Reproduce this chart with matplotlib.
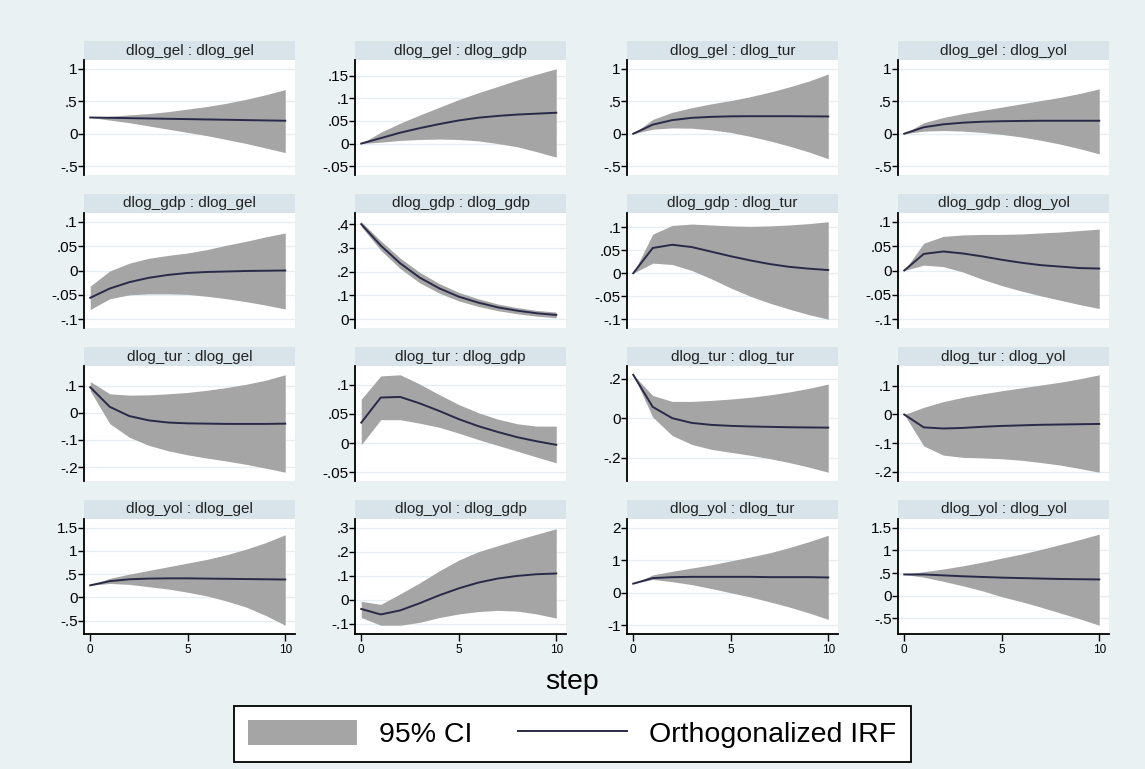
import matplotlib
matplotlib.use('Agg')
import matplotlib.pyplot as plt
from matplotlib.patches import Rectangle, Patch
from matplotlib.lines import Line2D
from matplotlib.ticker import FuncFormatter
import numpy as np

plt.rcParams['font.family'] = ['Liberation Sans', 'DejaVu Sans']

steps = list(range(11))
vars_ = ['gel', 'gdp', 'tur', 'yol']

# impulse -> response, rows = impulse, cols = response
irf = {
    ('gel', 'gel'): [0.25, 0.245, 0.24, 0.235, 0.23, 0.225, 0.22, 0.215, 0.21, 0.205, 0.20],
    ('gel', 'gdp'): [0, 0.012, 0.024, 0.034, 0.043, 0.051, 0.057, 0.061, 0.064, 0.066, 0.068],
    ('gel', 'tur'): [0, 0.14, 0.21, 0.245, 0.26, 0.268, 0.27, 0.27, 0.27, 0.268, 0.266],
    ('gel', 'yol'): [0, 0.10, 0.145, 0.17, 0.185, 0.193, 0.197, 0.20, 0.20, 0.20, 0.20],
    ('gdp', 'gel'): [-0.056, -0.037, -0.024, -0.015, -0.009, -0.005, -0.003, -0.002, -0.001, -0.0005, 0],
    ('gdp', 'gdp'): [0.40, 0.31, 0.235, 0.175, 0.13, 0.095, 0.07, 0.05, 0.036, 0.025, 0.018],
    ('gdp', 'tur'): [0, 0.055, 0.062, 0.057, 0.047, 0.037, 0.028, 0.02, 0.014, 0.01, 0.007],
    ('gdp', 'yol'): [0, 0.034, 0.039, 0.035, 0.029, 0.022, 0.016, 0.011, 0.008, 0.005, 0.004],
    ('tur', 'gel'): [0.094, 0.022, -0.012, -0.028, -0.036, -0.039, -0.04, -0.041, -0.041, -0.041, -0.04],
    ('tur', 'gdp'): [0.035, 0.078, 0.079, 0.068, 0.055, 0.041, 0.029, 0.019, 0.01, 0.003, -0.003],
    ('tur', 'tur'): [0.22, 0.057, 0.0, -0.024, -0.034, -0.039, -0.042, -0.044, -0.046, -0.047, -0.048],
    ('tur', 'yol'): [0, -0.045, -0.049, -0.047, -0.043, -0.04, -0.038, -0.036, -0.035, -0.034, -0.033],
    ('yol', 'gel'): [0.26, 0.35, 0.39, 0.405, 0.41, 0.41, 0.405, 0.40, 0.395, 0.39, 0.385],
    ('yol', 'gdp'): [-0.039, -0.062, -0.045, -0.015, 0.018, 0.047, 0.071, 0.088, 0.099, 0.106, 0.109],
    ('yol', 'tur'): [0.28, 0.45, 0.48, 0.49, 0.49, 0.49, 0.49, 0.48, 0.48, 0.48, 0.47],
    ('yol', 'yol'): [0.47, 0.47, 0.45, 0.43, 0.415, 0.40, 0.39, 0.38, 0.37, 0.365, 0.36],
}

ci_upper = {
    ('gel', 'gel'): [0.25, 0.27, 0.29, 0.31, 0.34, 0.38, 0.42, 0.47, 0.53, 0.60, 0.68],
    ('gel', 'gdp'): [0, 0.025, 0.045, 0.063, 0.08, 0.097, 0.112, 0.126, 0.140, 0.153, 0.165],
    ('gel', 'tur'): [0, 0.22, 0.33, 0.40, 0.46, 0.51, 0.57, 0.64, 0.72, 0.81, 0.92],
    ('gel', 'yol'): [0, 0.17, 0.25, 0.31, 0.36, 0.41, 0.46, 0.51, 0.56, 0.62, 0.69],
    ('gdp', 'gel'): [-0.032, -0.001, 0.015, 0.025, 0.031, 0.036, 0.043, 0.052, 0.060, 0.069, 0.077],
    ('gdp', 'gdp'): [0.41, 0.33, 0.257, 0.197, 0.15, 0.113, 0.086, 0.064, 0.049, 0.037, 0.03],
    ('gdp', 'tur'): [0, 0.085, 0.104, 0.107, 0.105, 0.103, 0.102, 0.103, 0.105, 0.108, 0.112],
    ('gdp', 'yol'): [0, 0.056, 0.07, 0.073, 0.074, 0.074, 0.075, 0.077, 0.079, 0.082, 0.085],
    ('tur', 'gel'): [0.115, 0.07, 0.065, 0.066, 0.07, 0.075, 0.083, 0.093, 0.105, 0.12, 0.14],
    ('tur', 'gdp'): [0.075, 0.115, 0.117, 0.101, 0.083, 0.066, 0.052, 0.041, 0.033, 0.029, 0.029],
    ('tur', 'tur'): [0.22, 0.115, 0.085, 0.085, 0.09, 0.097, 0.106, 0.118, 0.133, 0.151, 0.173],
    ('tur', 'yol'): [0, 0.025, 0.045, 0.06, 0.072, 0.083, 0.093, 0.103, 0.113, 0.125, 0.139],
    ('yol', 'gel'): [0.26, 0.41, 0.50, 0.58, 0.66, 0.74, 0.82, 0.92, 1.04, 1.18, 1.35],
    ('yol', 'gdp'): [-0.007, -0.02, 0.024, 0.07, 0.12, 0.165, 0.2, 0.225, 0.25, 0.273, 0.296],
    ('yol', 'tur'): [0.28, 0.55, 0.66, 0.76, 0.86, 0.98, 1.10, 1.23, 1.39, 1.57, 1.77],
    ('yol', 'yol'): [0.47, 0.53, 0.59, 0.66, 0.74, 0.83, 0.92, 1.02, 1.13, 1.24, 1.36],
}

ci_lower = {
    ('gel', 'gel'): [0.25, 0.21, 0.17, 0.12, 0.07, 0.02, -0.03, -0.09, -0.15, -0.22, -0.29],
    ('gel', 'gdp'): [0, 0.003, 0.007, 0.009, 0.01, 0.009, 0.006, 0.0, -0.007, -0.018, -0.03],
    ('gel', 'tur'): [0, 0.07, 0.09, 0.085, 0.06, 0.02, -0.04, -0.11, -0.19, -0.28, -0.385],
    ('gel', 'yol'): [0, 0.04, 0.05, 0.04, 0.02, -0.01, -0.05, -0.10, -0.16, -0.23, -0.31],
    ('gdp', 'gel'): [-0.08, -0.058, -0.05, -0.048, -0.048, -0.049, -0.053, -0.058, -0.064, -0.071, -0.079],
    ('gdp', 'gdp'): [0.39, 0.29, 0.213, 0.153, 0.11, 0.077, 0.054, 0.036, 0.023, 0.013, 0.006],
    ('gdp', 'tur'): [0, 0.022, 0.019, 0.006, -0.012, -0.032, -0.05, -0.065, -0.078, -0.09, -0.1],
    ('gdp', 'yol'): [0, 0.011, 0.008, -0.003, -0.018, -0.031, -0.042, -0.052, -0.061, -0.07, -0.078],
    ('tur', 'gel'): [0.081, -0.04, -0.09, -0.12, -0.14, -0.155, -0.167, -0.178, -0.19, -0.204, -0.219],
    ('tur', 'gdp'): [-0.003, 0.04, 0.04, 0.034, 0.027, 0.017, 0.006, -0.004, -0.014, -0.024, -0.034],
    ('tur', 'tur'): [0.22, 0.005, -0.088, -0.133, -0.158, -0.173, -0.188, -0.205, -0.225, -0.248, -0.274],
    ('tur', 'yol'): [0, -0.11, -0.142, -0.15, -0.152, -0.155, -0.16, -0.168, -0.177, -0.189, -0.202],
    ('yol', 'gel'): [0.26, 0.30, 0.28, 0.23, 0.18, 0.11, 0.03, -0.08, -0.21, -0.39, -0.60],
    ('yol', 'gdp'): [-0.075, -0.107, -0.107, -0.095, -0.075, -0.06, -0.05, -0.045, -0.048, -0.06, -0.077],
    ('yol', 'tur'): [0.28, 0.41, 0.34, 0.25, 0.13, 0.0, -0.13, -0.28, -0.44, -0.62, -0.82],
    ('yol', 'yol'): [0.47, 0.41, 0.32, 0.22, 0.11, -0.02, -0.13, -0.25, -0.38, -0.51, -0.65],
}

yticks = {
    ('gel', 'gel'): [-.5, 0, .5, 1],
    ('gel', 'gdp'): [-.05, 0, .05, .1, .15],
    ('gel', 'tur'): [-.5, 0, .5, 1],
    ('gel', 'yol'): [-.5, 0, .5, 1],
    ('gdp', 'gel'): [-.1, -.05, 0, .05, .1],
    ('gdp', 'gdp'): [0, .1, .2, .3, .4],
    ('gdp', 'tur'): [-.1, -.05, 0, .05, .1],
    ('gdp', 'yol'): [-.1, -.05, 0, .05, .1],
    ('tur', 'gel'): [-.2, -.1, 0, .1],
    ('tur', 'gdp'): [-.05, 0, .05, .1],
    ('tur', 'tur'): [-.2, 0, .2],
    ('tur', 'yol'): [-.2, -.1, 0, .1],
    ('yol', 'gel'): [-.5, 0, .5, 1, 1.5],
    ('yol', 'gdp'): [-.1, 0, .1, .2, .3],
    ('yol', 'tur'): [-1, 0, 1, 2],
    ('yol', 'yol'): [-.5, 0, .5, 1, 1.5],
}
xticks = [0, 5, 10]

bg = '#eaf1f3'
bar_col = '#d8e4ea'
ci_col = '#a5a5a5'
line_col = '#2a2a48'

W, H = 1145, 769
fig = plt.figure(figsize=(W / 100, H / 100), dpi=100, facecolor=bg)

lefts = [84, 355, 627, 898]
tops = [60, 213, 366, 519]
pw, ph = 211, 115
bar_h = 19


def stata_fmt(v, pos):
    s = '%g' % v
    if s.startswith('0.'):
        s = s[1:]
    elif s.startswith('-0.'):
        s = '-' + s[2:]
    return s


for i, imp in enumerate(vars_):
    for j, resp in enumerate(vars_):
        key = (imp, resp)
        ax = fig.add_axes([lefts[j] / W, 1 - (tops[i] + ph) / H, pw / W, ph / H])
        ax.set_facecolor('white')
        lo = np.array(ci_lower[key])
        up = np.array(ci_upper[key])
        ax.fill_between(steps, lo, up, color=ci_col, linewidth=0, zorder=2)
        ax.plot(steps, irf[key], color=line_col, lw=1.4, zorder=3)

        tk = yticks[key]
        ymin = min(tk[0], lo.min())
        ymax = max(tk[-1], up.max())
        pad = 0.09 * (ymax - ymin)
        ax.set_ylim(ymin - pad, ymax + pad)
        ax.set_xlim(-0.32, 10.5)
        ax.set_yticks(tk)
        ax.yaxis.set_major_formatter(FuncFormatter(stata_fmt))
        ax.grid(axis='y', color='#e6eef1', lw=1.0, zorder=0)
        ax.set_axisbelow(True)
        ax.tick_params(axis='y', length=4, width=1, labelsize=11, pad=0.5, colors='black')

        for s in ['top', 'right']:
            ax.spines[s].set_visible(False)
        ax.spines['left'].set_linewidth(1.3)
        if i == 3:
            ax.set_xticks(xticks)
            ax.tick_params(axis='x', length=5, width=1, labelsize=8.5, pad=2)
            ax.spines['bottom'].set_linewidth(1.3)
        else:
            ax.set_xticks([])
            ax.spines['bottom'].set_visible(False)

        # title bar above each panel
        ax.add_patch(Rectangle((0, 1), 1, bar_h / ph, transform=ax.transAxes,
                               facecolor=bar_col, edgecolor='none', clip_on=False))
        ax.text(0.5, 1 + bar_h / ph / 2, 'dlog_%s : dlog_%s' % (imp, resp),
                transform=ax.transAxes, ha='center', va='center',
                fontsize=11, color='#222222')

fig.text(0.5, 1 - 682 / H, 'step', ha='center', va='center', fontsize=20.5)

handles = [Patch(facecolor=ci_col, edgecolor='none'),
           Line2D([], [], color=line_col, lw=1.4)]
leg = fig.legend(handles, ['95% CI', 'Orthogonalized IRF'], loc='center',
                 bbox_to_anchor=(0.5, 1 - 734 / H), ncol=2, fontsize=20.5,
                 frameon=True, fancybox=False, edgecolor='black',
                 facecolor='white', framealpha=1.0,
                 handlelength=3.8, handleheight=1.0, columnspacing=1.6,
                 borderpad=0.5, handletextpad=0.8, borderaxespad=0.3)
leg.get_frame().set_linewidth(1.3)

fig.savefig('out.png', dpi=100, facecolor=bg)
